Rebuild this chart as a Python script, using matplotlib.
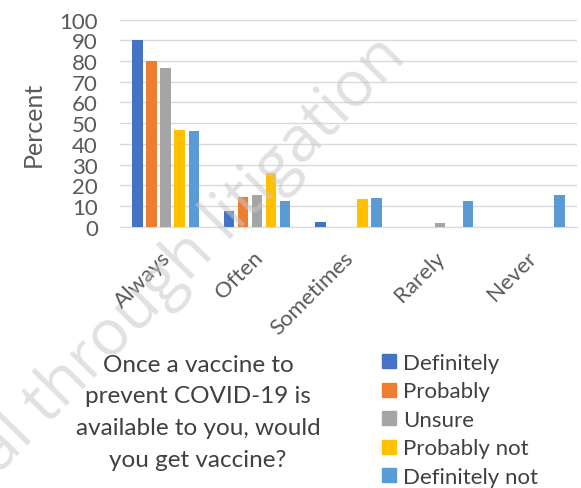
import numpy as np
import matplotlib
matplotlib.use('Agg')
import matplotlib.pyplot as plt
from matplotlib.lines import Line2D
from matplotlib.transforms import ScaledTranslation

plt.rcParams['font.family'] = ['Lato', 'DejaVu Sans']

# ── Data ──────────────────────────────────────────────────────────────────────
categories = ['Always', 'Often', 'Sometimes', 'Rarely', 'Never']
series = ['Definitely', 'Probably', 'Unsure', 'Probably not', 'Definitely not']
definitely     = [90.2, 7.6, 2.4, 0.0, 0.0]
probably       = [80.0, 14.3, 0.0, 0.0, 0.0]
unsure         = [76.5, 15.3, 0.0, 1.8, 0.0]
probably_not   = [46.7, 25.9, 13.4, 0.0, 0.0]
definitely_not = [46.2, 12.3, 13.9, 12.7, 15.6]
values = [definitely, probably, unsure, probably_not, definitely_not]
colors = ['#4472C4', '#ED7D31', '#A5A5A5', '#FFC000', '#5B9BD5']

title_lines = ['Once a vaccine to', 'prevent COVID-19 is',
               'available to you, would', 'you get vaccine?']

# ── Plot ──────────────────────────────────────────────────────────────────────
fig = plt.figure(figsize=(5.81, 4.89), dpi=100)
ax = fig.add_axes([0.2065, 0.534, 0.7865, 0.424])

x = np.arange(len(categories))
step = 0.154
width = 0.115
for i, (vals, col) in enumerate(zip(values, colors)):
    ax.bar(x + (i - 2) * step, vals, width=width, color=col, zorder=3)

ax.set_xlim(-0.5, len(categories) - 0.5)
ax.set_ylim(0, 100)
ax.set_yticks(range(0, 101, 10))
ax.tick_params(axis='y', labelsize=16, length=0, pad=16, colors='#595959')
ax.tick_params(axis='x', length=0, pad=14.5)
ax.set_xticks(x)
ax.set_xticklabels(categories, rotation=45, ha='right', va='top',
                   rotation_mode='anchor', fontsize=16, color='#595959')
shift = ScaledTranslation(-0.05, 0, fig.dpi_scale_trans)
for lab in ax.get_xticklabels():
    lab.set_transform(lab.get_transform() + shift)
ax.grid(axis='y', color='#d9d9d9', lw=1.0, zorder=0)
for s in ['top', 'right', 'left']:
    ax.spines[s].set_visible(False)
ax.spines['bottom'].set_color('#d9d9d9')
ax.set_ylabel('Percent', fontsize=18, color='#595959', labelpad=10)

fig.text(0.341, 0.156, '\n'.join(title_lines), ha='center', va='center',
         fontsize=17.5, color='#404040', linespacing=1.62)

handles = [Line2D([], [], marker='s', ls='none', markersize=9.5,
                  markerfacecolor=c, markeredgecolor=c) for c in colors]
fig.legend(handles, series, loc='upper left', bbox_to_anchor=(0.657, 0.276),
           frameon=False, fontsize=16, handlelength=0.7, handletextpad=0.25,
           labelspacing=0.38, labelcolor='#404040', borderaxespad=0,
           borderpad=0)

# watermark
fig.text(0.702, 0.88, 'al through litigation', rotation=45.5, fontsize=46,
         color='#c8c8c8', alpha=0.55, ha='right', va='baseline',
         rotation_mode='anchor', family=['Open Sans', 'DejaVu Sans'], zorder=10)

fig.savefig('out.png', dpi=100)
